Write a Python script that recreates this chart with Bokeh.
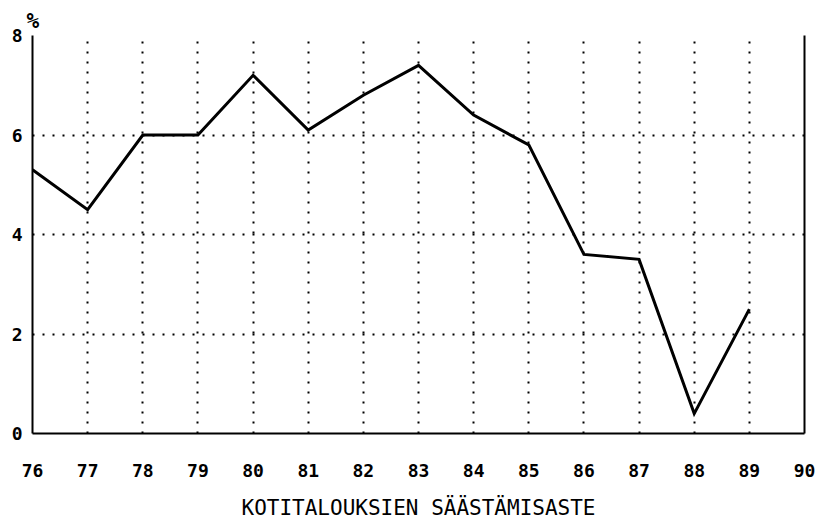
from bokeh.plotting import figure
from bokeh.models import Range1d, LinearAxis, FixedTicker, ColumnDataSource
from bokeh.embed import file_html
from bokeh.resources import INLINE

years = [76, 77, 78, 79, 80, 81, 82, 83, 84, 85, 86, 87, 88, 89]
saving_rate = [5.3, 4.5, 6.0, 6.0, 7.2, 6.1, 6.8, 7.4, 6.4, 5.8, 3.6, 3.5, 0.4, 2.5]
x_ticks = list(range(76, 91))
y_ticks = [0, 2, 4, 6, 8]
title_text = "KOTITALOUKSIEN SÄÄSTÄMISASTE"
unit_text = "%"

FONT = "DejaVu Sans Mono"

p = figure(width=824, height=522, output_backend="svg", toolbar_location=None,
           x_range=Range1d(76, 90), y_range=Range1d(0, 8),
           min_border_left=32, min_border_right=20, min_border_top=35, min_border_bottom=89)
p.outline_line_color = None
p.background_fill_color = "white"
p.border_fill_color = "white"

p.title.text = unit_text
p.title.align = "left"
p.title.offset = -6
p.title.text_font = FONT
p.title.text_font_style = "bold"
p.title.text_font_size = "21px"
p.title.text_color = "black"
p.title.standoff = 6

src = ColumnDataSource(dict(x=years, y=saving_rate))
p.line("x", "y", source=src, line_color="black", line_width=3, line_join="miter")

for ax in (p.xaxis[0], p.yaxis[0]):
    ax.major_tick_out = 0
    ax.major_tick_in = 0
    ax.minor_tick_out = 0
    ax.minor_tick_in = 0
    ax.axis_line_width = 2
    ax.axis_line_color = "black"
    ax.major_label_text_font = FONT
    ax.major_label_text_font_style = "bold"
    ax.major_label_text_font_size = "18px"
    ax.major_label_text_color = "black"

p.xaxis.ticker = FixedTicker(ticks=x_ticks)
p.yaxis.ticker = FixedTicker(ticks=y_ticks)
p.xaxis.major_label_standoff = 30
p.yaxis.major_label_standoff = 10
p.xaxis.axis_label = title_text
p.xaxis.axis_label_text_font = FONT
p.xaxis.axis_label_text_font_style = "normal"
p.xaxis.axis_label_text_font_size = "21px"
p.xaxis.axis_label_text_color = "black"
p.xaxis.axis_label_standoff = 16

right = LinearAxis(ticker=FixedTicker(ticks=[]), axis_line_width=2, axis_line_color="black",
                   major_tick_out=0, major_tick_in=0, minor_tick_out=0, minor_tick_in=0,
                   major_label_text_font_size="0px")
p.add_layout(right, "right")

p.xgrid.ticker = FixedTicker(ticks=x_ticks[1:-1])
p.ygrid.ticker = FixedTicker(ticks=y_ticks[1:])
for g in (p.xgrid[0], p.ygrid[0]):
    g.grid_line_color = "black"
    g.grid_line_width = 2
    g.grid_line_dash = "2 8"

open("out.html", "w").write(file_html(p, INLINE))
